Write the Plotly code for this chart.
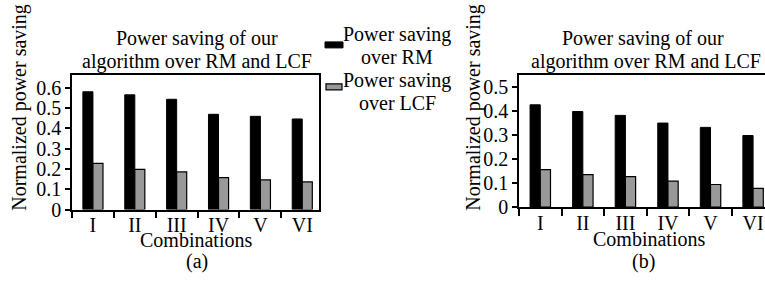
import plotly.graph_objects as go

categories = ["I", "II", "III", "IV", "V", "VI"]
rm_a = [0.58, 0.565, 0.543, 0.469, 0.459, 0.446]
lcf_a = [0.227, 0.198, 0.185, 0.157, 0.146, 0.136]
rm_b = [0.426, 0.398, 0.382, 0.350, 0.332, 0.298]
lcf_b = [0.156, 0.135, 0.127, 0.108, 0.094, 0.078]

W, H = 765, 281
S = 0.963  # observed vertical scale of the photographed page
FONT = "Liberation Serif"
BLACK = "#000000"
GRAY = "#999999"

def px(x):
    return x / W

def py(y):
    return 1 - (y / S) / H

fig = go.Figure()
fig.add_trace(go.Bar(x=categories, y=rm_a, name="Power saving over RM",
                     marker=dict(color=BLACK, line=dict(color=BLACK, width=1)),
                     xaxis="x", yaxis="y", showlegend=False))
fig.add_trace(go.Bar(x=categories, y=lcf_a, name="Power saving over LCF",
                     marker=dict(color=GRAY, line=dict(color=BLACK, width=1.2)),
                     xaxis="x", yaxis="y", showlegend=False))
fig.add_trace(go.Bar(x=categories, y=rm_b, name="Power saving over RM",
                     marker=dict(color=BLACK, line=dict(color=BLACK, width=1)),
                     xaxis="x2", yaxis="y2", showlegend=False))
fig.add_trace(go.Bar(x=categories, y=lcf_b, name="Power saving over LCF",
                     marker=dict(color=GRAY, line=dict(color=BLACK, width=1.2)),
                     xaxis="x2", yaxis="y2", showlegend=False))

tickfont = dict(family=FONT, size=20, color=BLACK)
xcommon = dict(type="category", categoryorder="array", categoryarray=categories,
               tickson="boundaries", ticks="outside", ticklen=7, tickwidth=1.5,
               tickcolor=BLACK, showline=True, linecolor=BLACK, linewidth=1.5,
               showgrid=False, zeroline=False, tickfont=tickfont,
               ticklabelstandoff=-3)
ycommon = dict(ticks="outside", ticklen=5, tickwidth=1.5, tickcolor=BLACK,
               showline=True, linecolor=BLACK, linewidth=1.5, showgrid=False,
               zeroline=False, dtick=0.1, tick0=0, tickfont=tickfont)

fig.update_layout(
    width=W, height=H,
    margin=dict(l=0, r=0, t=0, b=0),
    paper_bgcolor="white", plot_bgcolor="white",
    barmode="group", bargap=0.52, bargroupgap=0,
    showlegend=False,
    xaxis=dict(domain=[px(72), px(319)], range=[-0.5, 5.4], anchor="y", mirror=True, **xcommon),
    yaxis=dict(domain=[py(210), py(75.5)], range=[0, 0.661], anchor="x", mirror=True, **ycommon),
    xaxis2=dict(domain=[px(519), 1.0], range=[-0.5, 5.28], anchor="y2", mirror=True, **xcommon),
    yaxis2=dict(domain=[py(207.5), py(75)], range=[0, 0.551], anchor="x2", mirror=False, **ycommon),
)

ann = []
def text(x, y, s, size=20, angle=0):
    ann.append(dict(x=px(x), y=py(y), xref="paper", yref="paper", text=s,
                    showarrow=False, xanchor="center", yanchor="middle",
                    textangle=angle, font=dict(family=FONT, size=size, color=BLACK)))

# titles
text(197, 38.5, "Power saving of our")
text(197, 62, "algorithm over RM and LCF")
text(643, 38.5, "Power saving of our")
text(646, 62, "algorithm over RM and LCF")
# axis titles and panel labels
text(196, 240.5, "Combinations")
text(197, 262, "(a)")
text(649, 240, "Combinations")
text(643, 262, "(b)")
text(20, 108, "Normalized power saving", angle=-90)
text(474, 108, "Normalized power saving", angle=-90)
# legend
text(397, 35, "Power saving")
text(397, 57, "over RM")
text(397, 81, "Power saving")
text(397, 103, "over LCF")
fig.update_layout(annotations=ann)

fig.add_shape(type="rect", xref="paper", yref="paper",
              x0=px(325), x1=px(343), y0=py(48), y1=py(42),
              fillcolor=BLACK, line=dict(color=BLACK, width=1))
fig.add_shape(type="rect", xref="paper", yref="paper",
              x0=px(326), x1=px(342), y0=py(90), y1=py(84),
              fillcolor=GRAY, line=dict(color=BLACK, width=1.2))

css = ("var s=document.createElement('style');"
       "s.textContent='html,body{margin:0;padding:0;overflow:hidden;}';"
       "document.head.appendChild(s);")
fig.write_html("out.html", config={"displayModeBar": False}, post_script=css)
